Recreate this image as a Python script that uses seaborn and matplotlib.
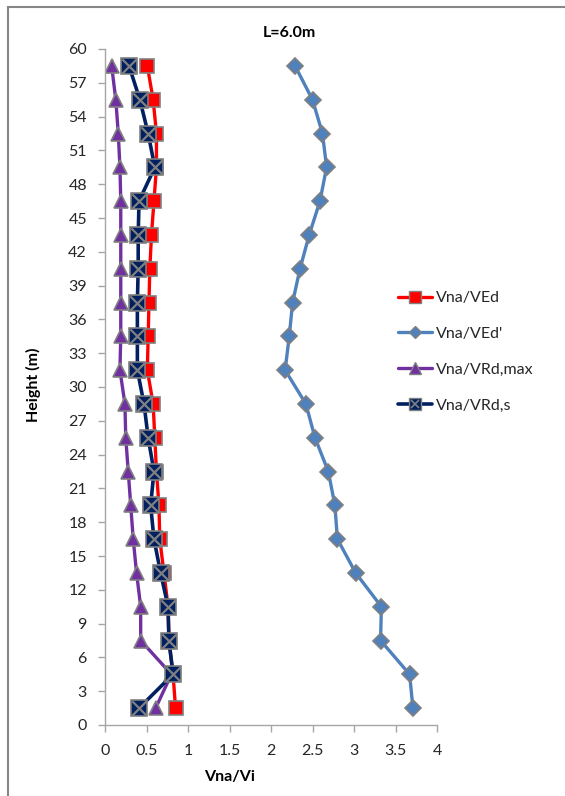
import matplotlib
matplotlib.use("Agg")
import matplotlib.pyplot as plt
import seaborn as sns
import pandas as pd
from matplotlib.lines import Line2D
from matplotlib.legend_handler import HandlerTuple
from matplotlib.patches import Rectangle

heights = [1.5, 4.5, 7.5, 10.5, 13.5, 16.5, 19.5, 22.5, 25.5, 28.5,
           31.5, 34.5, 37.5, 40.5, 43.5, 46.5, 49.5, 52.5, 55.5, 58.5]
vna_ved = [0.85, 0.82, 0.77, 0.76, 0.71, 0.66, 0.65, 0.62, 0.60, 0.58,
           0.51, 0.52, 0.53, 0.54, 0.56, 0.59, 0.62, 0.62, 0.58, 0.51]
vna_ved_p = [3.71, 3.67, 3.32, 3.33, 3.02, 2.80, 2.77, 2.69, 2.53, 2.42,
             2.17, 2.22, 2.26, 2.35, 2.46, 2.59, 2.67, 2.62, 2.50, 2.29]
vna_vrd_max = [0.61, 0.80, 0.43, 0.43, 0.38, 0.34, 0.31, 0.28, 0.25, 0.24,
               0.18, 0.19, 0.19, 0.19, 0.19, 0.19, 0.18, 0.16, 0.13, 0.08]
vna_vrd_s = [0.41, 0.82, 0.77, 0.76, 0.67, 0.59, 0.55, 0.59, 0.52, 0.47,
             0.39, 0.39, 0.39, 0.40, 0.40, 0.41, 0.60, 0.52, 0.42, 0.29]
labels = ["Vna/VEd", "Vna/VEd'", "Vna/VRd,max", "Vna/VRd,s"]
x_ticks = [0, 0.5, 1, 1.5, 2, 2.5, 3, 3.5, 4]
y_ticks = list(range(0, 61, 3))

df = pd.DataFrame({"h": heights, "ved": vna_ved, "vedp": vna_ved_p,
                   "vmax": vna_vrd_max, "vs": vna_vrd_s})

sns.set_theme(style="white")
plt.rcParams["font.family"] = ["Lato", "DejaVu Sans"]

fig = plt.figure(figsize=(5.65, 7.96), dpi=100)
ax = fig.add_axes([105 / 565, 1 - 725 / 796, (437 - 105) / 565, (725 - 49) / 796])

edge = "#808080"
red, blue, purple, navy = "#FF0000", "#4F81BD", "#7030A0", "#002060"

sns.lineplot(data=df, x="ved", y="h", sort=False, orient="y", estimator=None,
             color=red, lw=2.4, marker="s", markersize=9.5,
             markerfacecolor=red, markeredgecolor=edge, markeredgewidth=1.2, ax=ax)
sns.lineplot(data=df, x="vedp", y="h", sort=False, orient="y", estimator=None,
             color=blue, lw=2.4, marker="D", markersize=8,
             markerfacecolor=blue, markeredgecolor=edge, markeredgewidth=1.2, ax=ax)
sns.lineplot(data=df, x="vmax", y="h", sort=False, orient="y", estimator=None,
             color=purple, lw=2.4, marker="^", markersize=10.5,
             markerfacecolor=purple, markeredgecolor=edge, markeredgewidth=1.2, ax=ax)
sns.lineplot(data=df, x="vs", y="h", sort=False, orient="y", estimator=None,
             color=navy, lw=2.6, marker="s", markersize=11,
             markerfacecolor=navy, markeredgecolor=edge, markeredgewidth=1.2, ax=ax)
sns.scatterplot(data=df, x="vs", y="h", marker="x", s=105, color=edge,
                linewidth=1.6, ax=ax, zorder=5)

ax.set_xlim(0, 4)
ax.set_ylim(0, 60)
ax.set_xticks(x_ticks)
ax.set_xticklabels(["0", "0.5", "1", "1.5", "2", "2.5", "3", "3.5", "4"])
ax.set_yticks(y_ticks)
ax.set_xlabel("")
ax.set_ylabel("")
for s in ["top", "right"]:
    ax.spines[s].set_visible(False)
for s in ["left", "bottom"]:
    ax.spines[s].set_color("#A6A6A6")
    ax.spines[s].set_linewidth(1.0)
ax.tick_params(axis="both", which="major", direction="out", length=5,
               width=1.0, color="#A6A6A6", labelsize=11.5, labelcolor="#262626")
ax.tick_params(axis="y", pad=8, left=True)
ax.tick_params(axis="x", pad=9, bottom=True)
ax.grid(False)

fig.text(289 / 565, 1 - 33 / 796, "L=6.0m", ha="center", va="center",
         fontsize=11.5, fontweight="bold", color="black")
fig.text(33 / 565, 1 - 385 / 796, "Height (m)", ha="center", va="center",
         rotation=90, fontsize=11.5, fontweight="bold", color="black")
fig.text(230 / 565, 1 - 777 / 796, "Vna/Vi", ha="center", va="center",
         fontsize=11.5, fontweight="bold", color="black")

h1 = Line2D([], [], color=red, lw=2.4, marker="s", markersize=8,
            markerfacecolor=red, markeredgecolor=edge, markeredgewidth=1.0)
h2 = Line2D([], [], color=blue, lw=2.4, marker="D", markersize=6,
            markerfacecolor=blue, markeredgecolor=edge, markeredgewidth=1.0)
h3 = Line2D([], [], color=purple, lw=2.4, marker="^", markersize=8,
            markerfacecolor=purple, markeredgecolor=edge, markeredgewidth=1.0)
h4a = Line2D([], [], color=navy, lw=2.6, marker="s", markersize=8,
             markerfacecolor=navy, markeredgecolor=edge, markeredgewidth=1.0)
h4b = Line2D([], [], color=edge, lw=0, marker="x", markersize=6,
             markeredgewidth=1.2)
fig.legend([h1, h2, h3, (h4a, h4b)], labels,
           handler_map={tuple: HandlerTuple(ndivide=1, pad=0)},
           loc="upper left", bbox_to_anchor=(398 / 565, 1 - 291 / 796),
           frameon=False, fontsize=11.5, handlelength=2.1, handletextpad=0.3,
           labelspacing=1.35, borderpad=0, borderaxespad=0)

fig.patches.append(Rectangle((8 / 565, -0.1), 2, 0.1 + 1 - 7 / 796,
                             transform=fig.transFigure, fill=False,
                             edgecolor="#868686", linewidth=1.5))

fig.savefig("out.png", dpi=100)
